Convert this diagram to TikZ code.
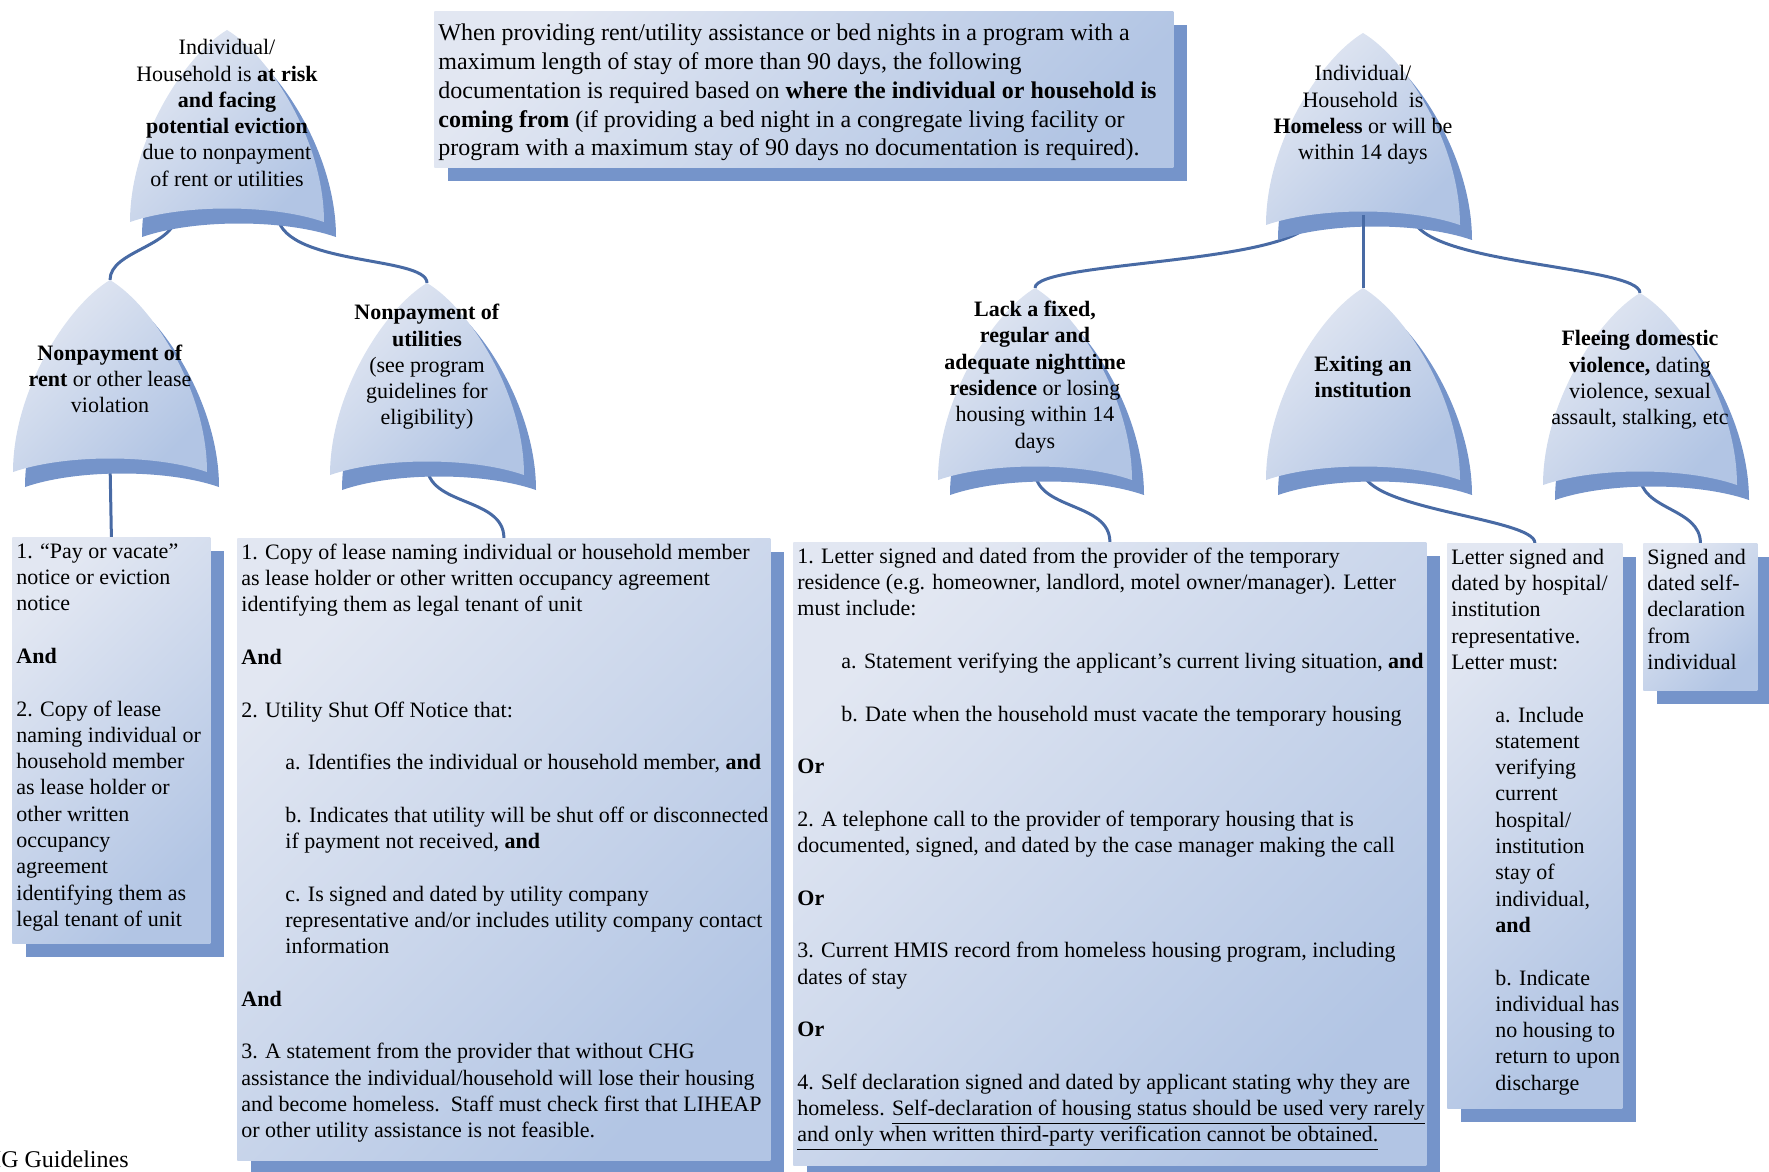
\documentclass[tikz,border=0pt]{standalone}
\usepackage{fontspec}
\setmainfont{Liberation Serif}
\usetikzlibrary{shadows}

\definecolor{boxlight}{RGB}{226,231,242}
\definecolor{boxdark}{RGB}{178,197,228}
\definecolor{shadowblue}{RGB}{117,148,202}
\definecolor{linkblue}{RGB}{72,106,164}

\pgfdeclarelayer{background}
\pgfsetlayers{background,main}

% outline of the pointed arch, apex at the origin
\newcommand{\archpath}{(0,0) .. controls (-42,25) and (-97,110) .. (-97,192)
  .. controls (-45,174) and (45,174) .. (97,192)
  .. controls (97,110) and (42,25) .. cycle}
\newcommand{\ind}{\hspace*{22pt}}

\tikzset{
  x=0.5pt, y=-0.5pt,
  link/.style={draw=linkblue, line width=1.5pt},
  docbox/.style={anchor=north west, inner sep=0pt,
    top color=boxlight, bottom color=boxdark, shading angle=45,
    general shadow={fill=shadowblue, shadow xshift=7pt, shadow yshift=-7pt}},
  doctext/.style={anchor=north west, align=left, inner xsep=2pt, inner ysep=1.2pt,
    font=\fontsize{11}{13.15}\selectfont},
  archtext/.style={align=center, inner sep=0pt, font=\fontsize{11}{13.15}\selectfont},
  pics/arch/.style 2 args={code={
    \fill[shadowblue, shift={(12,15)}] \archpath;
    \shade[top color=boxlight, bottom color=boxdark, shading angle=45] \archpath;
    \coordinate (-top) at (0,0);
    \coordinate (-bot) at (0,182);
    \coordinate (-botl) at (-50,182);
    \coordinate (-botr) at (50,182);
    \node[archtext] (-label) at (0,#2) {#1};
  }},
}

\begin{document}
\begin{tikzpicture}
\useasboundingbox (0,0) rectangle (1769,1172);

% note at the top
\node[docbox, minimum width=369.5pt, minimum height=78pt] (intro) at (434,11) {};
\node[doctext, inner ysep=4.6pt, font=\fontsize{12}{14.4}\selectfont] (introtext) at (intro.north west)
{\strut When providing rent/utility assistance or bed nights in a program with a\\
maximum length of stay of more than 90 days, the following\\
documentation is required based on \textbf{where the individual or household is}\\
\textbf{coming from} (if providing a bed night in a congregate living facility or\\
program with a maximum stay of 90 days no documentation is required).};

% at risk branch
\pic (atrisk) at (227,30) {arch={Individual/\\Household is \textbf{at risk}\\\textbf{and facing}\\\textbf{potential eviction}\\due to nonpayment\\of rent or utilities}{83}};
\pic (rent) at (110,280) {arch={\textbf{Nonpayment of}\\\textbf{rent} or other lease\\violation}{99}};
\pic (util) at (427,283) {arch={\textbf{Nonpayment of}\\\textbf{utilities}\\(see program\\guidelines for\\eligibility)}{84}};

% homeless branch
\pic (homeless) at (1363,33) {arch={Individual/\\Household\ \ is\\\textbf{Homeless} or will be\\within 14 days}{82}};
\pic (lack) at (1035,288) {arch={\textbf{Lack a fixed,}\\\textbf{regular and}\\\textbf{adequate nighttime}\\\textbf{residence} or losing\\housing within 14\\days}{89}};
\pic (exit) at (1363,288) {arch={\textbf{Exiting an}\\\textbf{institution}}{89}};
\pic (flee) at (1640,293) {arch={\textbf{Fleeing domestic}\\\textbf{violence,} dating\\violence, sexual\\assault, stalking, etc}{87}};
\draw[link] (homeless-bot) -- (exit-top);

% documentation boxes
\node[docbox, minimum width=99pt, minimum height=203pt] (rentdoc) at (12,537) {};
\node[doctext] (renttext) at (rentdoc.north west)
{\strut 1. ``Pay or vacate''\\notice or eviction\\notice\\[13.15pt]
\textbf{And}\\[13.15pt]
2. Copy of lease\\naming individual or\\household member\\as lease holder or\\other written\\occupancy\\agreement\\identifying them as\\legal tenant of unit};

\node[docbox, minimum width=266.5pt, minimum height=311pt] (utildoc) at (237,538) {};
\node[doctext] (utiltext) at (utildoc.north west)
{\strut 1. Copy of lease naming individual or household member\\
as lease holder or other written occupancy agreement\\
identifying them as legal tenant of unit\\[13.15pt]
\textbf{And}\\[13.15pt]
2. Utility Shut Off Notice that:\\[13.15pt]
\ind a. Identifies the individual or household member, \textbf{and}\\[13.15pt]
\ind b. Indicates that utility will be shut off or disconnected\\
\ind if payment not received, \textbf{and}\\[13.15pt]
\ind c. Is signed and dated by utility company\\
\ind representative and/or includes utility company contact\\
\ind information\\[13.15pt]
\textbf{And}\\[13.15pt]
3. A statement from the provider that without CHG\\
assistance the individual/household will lose their housing\\
and become homeless.\ \ Staff must check first that LIHEAP\\
or other utility assistance is not feasible.};

\node[docbox, minimum width=316.5pt, minimum height=311.5pt] (lackdoc) at (793,542) {};
\node[doctext] (lacktext) at (lackdoc.north west)
{\strut 1. Letter signed and dated from the provider of the temporary\\
residence (e.g. homeowner, landlord, motel owner/manager). Letter\\
must include:\\[13.15pt]
\ind a. Statement verifying the applicant’s current living situation, \textbf{and}\\[13.15pt]
\ind b. Date when the household must vacate the temporary housing\\[13.15pt]
\textbf{Or}\\[13.15pt]
2. A telephone call to the provider of temporary housing that is\\
documented, signed, and dated by the case manager making the call\\[13.15pt]
\textbf{Or}\\[13.15pt]
3. Current HMIS record from homeless housing program, including\\
dates of stay\\[13.15pt]
\textbf{Or}\\[13.15pt]
4. Self declaration signed and dated by applicant stating why they are\\
homeless. \underline{Self-declaration of housing status should be used very rarely}\\
\underline{and only when written third-party verification cannot be obtained.}};

\node[docbox, minimum width=87.5pt, minimum height=282.5pt] (exitdoc) at (1447,543) {};
\node[doctext] (exittext) at (exitdoc.north west)
{\strut Letter signed and\\dated by hospital/\\institution\\representative.\\Letter must:\\[13.15pt]
\ind a. Include\\\ind statement\\\ind verifying\\\ind current\\\ind hospital/\\\ind institution\\\ind stay of\\\ind individual,\\\ind \textbf{and}\\[13.15pt]
\ind b. Indicate\\\ind individual has\\\ind no housing to\\\ind return to upon\\\ind discharge};

\node[docbox, minimum width=57pt, minimum height=73.5pt] (fleedoc) at (1643,543) {};
\node[doctext] (fleetext) at (fleedoc.north west)
{\strut Signed and\\dated self-\\declaration\\from\\individual};

\node[anchor=east, inner sep=0pt, font=\fontsize{12}{14}\selectfont] (footer) at (129,1159) {CHG Guidelines};

% connectors behind the shapes
\begin{pgfonlayer}{background}
\draw[link] (atrisk-botl) .. controls +(0,35) and +(0,-30) .. (rent-top);
\draw[link] (atrisk-botr) .. controls +(0,55) and +(0,-28) .. (util-top);
\draw[link] (rent-bot) -- (rentdoc.north);
\draw[link] (util-bot) to[out=-90,in=90] (utildoc.north);
\draw[link] (homeless-botl) .. controls +(0,50) and +(0,-28) .. (lack-top);
\draw[link] (homeless-botr) .. controls +(0,50) and +(0,-28) .. (flee-top);
\draw[link] (lack-bot) to[out=-90,in=90] (lackdoc.north);
\draw[link] (exit-bot) .. controls +(0,40) and +(0,-25) .. (exitdoc.north);
\draw[link] (flee-bot) to[out=-90,in=90] (fleedoc.north);
\end{pgfonlayer}

\end{tikzpicture}
\end{document}
